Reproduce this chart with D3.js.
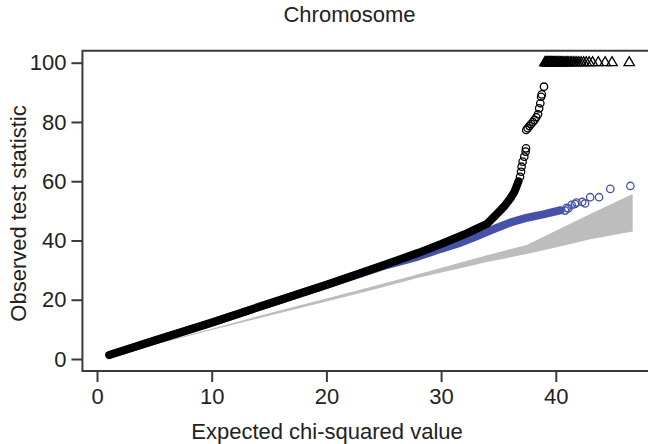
<!DOCTYPE html>
<html>
<head>
<meta charset="utf-8">
<script src="https://cdn.jsdelivr.net/npm/d3@7"></script>
<style>
  html, body { margin: 0; padding: 0; background: #fff; }
  svg { display: block; }
  text { font-family: "Liberation Sans", Arial, Helvetica, sans-serif; fill: #222; }
</style>
</head>
<body>
<svg id="chart" width="648" height="444"></svg>
<script>
// ---- Data ----
const title = "Chromosome";
const xLabel = "Expected chi-squared value";
const yLabel = "Observed test statistic";
const xTicks = [0, 10, 20, 30, 40];
const yTicks = [0, 20, 40, 60, 80, 100];

// grey confidence band (expected vs expected)
const bandX  = [0.6, 5, 10, 15, 20, 24, 28, 31, 34, 37.45, 40, 43, 46.7];
const bandLo = [0.55, 4.85, 9.75, 14.6, 19.4, 23.3, 27.4, 30.0, 32.7, 35.4, 37.6, 40.4, 43.0];
const bandHi = [0.65, 5.15, 10.25, 15.4, 20.4, 24.5, 28.6, 31.8, 35.0, 38.5, 43.3, 48.9, 55.7];

// blue series: dense run of points, then separate points
const blueDenseX = [1.07, 5, 10, 15, 20, 25, 28, 30, 31.5, 33, 34.5, 36, 37.5, 39, 40.4];
const blueDenseY = [1.35, 6.2, 12.3, 18.7, 25.0, 31.4, 34.6, 37.2, 39.0, 41.3, 43.7, 46.0, 47.7, 48.9, 50.2];
const bluePtsX = [40.8, 40.95, 41.09, 41.38, 41.67, 41.8, 42.3, 42.55, 43.0, 43.77, 44.75, 46.5];
const bluePtsY = [50.1, 51.0, 50.8, 52.0, 52.3, 52.8, 53.0, 52.5, 54.6, 54.6, 57.4, 58.4];

// black series: dense run, then separate points, then values capped at 100
const blackDenseX = [1.07, 5, 10, 15, 20, 25, 28, 30, 32, 33, 34, 35, 35.5, 36, 36.4, 36.75];
const blackDenseY = [1.35, 6.2, 12.3, 18.7, 25.0, 31.7, 35.8, 38.8, 42.0, 43.8, 45.6, 49.5, 51.5, 54.0, 56.5, 60.0];
const blackPtsX = [36.88, 36.97, 37.02, 37.11, 37.25, 37.37, 37.40,
                   37.42, 37.55, 37.7, 37.85, 38.0, 38.15, 38.3, 38.45, 38.55, 38.65, 38.72, 38.78, 38.97];
const blackPtsY = [61.5, 63.2, 64.9, 66.6, 68.3, 70.0, 71.1,
                   77.3, 77.9, 78.6, 79.3, 80.0, 80.7, 81.6, 82.6, 84.6, 86.3, 88.5, 89.3, 91.9];
const cappedValue = 100;
const cappedX = [39.05, 39.1, 39.15, 39.2, 39.25, 39.3, 39.35, 39.4, 39.45, 39.5, 39.55, 39.6,
                 39.66, 39.72, 39.78, 39.84, 39.9, 39.97, 40.04, 40.11, 40.18, 40.26, 40.34, 40.42,
                 40.5, 40.6, 40.7, 40.8, 40.9, 41.0, 41.12, 41.25, 41.38, 41.52, 41.67, 41.83,
                 42.0, 42.2, 42.42, 42.65, 42.9, 43.2, 43.7, 44.3, 44.9, 46.4];

// ---- Chart ----
const svg = d3.select("#chart");
const x = d3.scaleLinear().domain([0, 40]).range([97, 555.8]);
const y = d3.scaleLinear().domain([0, 100]).range([359, 62.7]);

const boxLeft = x(-1.27), boxRight = 670, boxTop = y(104.05), boxBottom = y(-4.05);
const axisColor = "#3a3a3a";

const plot = svg.append("g");
const clipId = "clip";
svg.append("clipPath").attr("id", clipId).append("rect")
  .attr("x", boxLeft).attr("y", boxTop).attr("width", boxRight - boxLeft).attr("height", boxBottom - boxTop);
const inner = plot.append("g").attr("clip-path", `url(#${clipId})`);

// grey band
const bandData = bandX.map((v, i) => ({ x: v, lo: bandLo[i], hi: bandHi[i] }));
inner.append("path")
  .datum(bandData)
  .attr("fill", "#bdbdbd")
  .attr("d", d3.area().x(d => x(d.x)).y0(d => y(d.lo)).y1(d => y(d.hi)));

const r = 3.7, sw = 1.3;
const lineGen = d3.line().x(d => x(d[0])).y(d => y(d[1]));

// blue dense run
const blueColor = "#4652a8";
inner.append("path")
  .datum(blueDenseX.map((v, i) => [v, blueDenseY[i]]))
  .attr("fill", "none").attr("stroke", blueColor)
  .attr("stroke-width", 2 * r + sw - 0.6).attr("stroke-linecap", "round").attr("stroke-linejoin", "round")
  .attr("d", lineGen);
inner.selectAll("circle.blue")
  .data(bluePtsX.map((v, i) => [v, bluePtsY[i]]))
  .join("circle").attr("class", "blue")
  .attr("cx", d => x(d[0])).attr("cy", d => y(d[1])).attr("r", r)
  .attr("fill", "none").attr("stroke", blueColor).attr("stroke-width", sw);

// black dense run
inner.append("path")
  .datum(blackDenseX.map((v, i) => [v, blackDenseY[i]]))
  .attr("fill", "none").attr("stroke", "#000")
  .attr("stroke-width", 2 * r + sw - 0.6).attr("stroke-linecap", "round").attr("stroke-linejoin", "round")
  .attr("d", lineGen);
inner.selectAll("circle.black")
  .data(blackPtsX.map((v, i) => [v, blackPtsY[i]]))
  .join("circle").attr("class", "black")
  .attr("cx", d => x(d[0])).attr("cy", d => y(d[1])).attr("r", r)
  .attr("fill", "none").attr("stroke", "#000").attr("stroke-width", sw);

// capped triangles
const triPath = (cx, cy) => {
  const p = d3.path();
  p.moveTo(cx, cy - 5.2);
  p.lineTo(cx + 5.2, cy + 3.8);
  p.lineTo(cx - 5.2, cy + 3.8);
  p.closePath();
  return p.toString();
};
inner.selectAll("path.tri")
  .data(cappedX)
  .join("path").attr("class", "tri")
  .attr("d", d => triPath(x(d), y(cappedValue) - 0.8))
  .attr("fill", "none").attr("stroke", "#000").attr("stroke-width", 1.3);

// box (left, top, bottom)
svg.append("path")
  .attr("d", `M${boxRight},${boxTop}H${boxLeft}V${boxBottom}H${boxRight}`)
  .attr("fill", "none").attr("stroke", axisColor).attr("stroke-width", 2);

// y axis
const yAxis = d3.axisLeft(y).tickValues(yTicks).tickSize(11).tickPadding(5).tickFormat(d3.format("d"));
const gy = svg.append("g").attr("transform", `translate(${boxLeft},0)`).call(yAxis);
gy.select(".domain").remove();
gy.selectAll(".tick line").attr("stroke", axisColor).attr("stroke-width", 2);
gy.selectAll(".tick text").attr("font-size", 22).attr("fill", "#222")
  .style("font-family", '"Liberation Sans", Arial, sans-serif');

// x axis
const xAxis = d3.axisBottom(x).tickValues(xTicks).tickSize(11).tickPadding(6).tickFormat(d3.format("d"));
const gx = svg.append("g").attr("transform", `translate(0,${boxBottom})`).call(xAxis);
gx.select(".domain").remove();
gx.selectAll(".tick line").attr("stroke", axisColor).attr("stroke-width", 2);
gx.selectAll(".tick text").attr("font-size", 22).attr("fill", "#222")
  .style("font-family", '"Liberation Sans", Arial, sans-serif');

// titles
svg.append("text").attr("x", 349.5).attr("y", 22).attr("text-anchor", "middle")
  .attr("font-size", 22).text(title);
svg.append("text").attr("x", 327).attr("y", 438.5).attr("text-anchor", "middle")
  .attr("font-size", 22).text(xLabel);
svg.append("text").attr("transform", "translate(26,213.5) rotate(-90)").attr("text-anchor", "middle")
  .attr("font-size", 22).text(yLabel);
</script>
</body>
</html>
